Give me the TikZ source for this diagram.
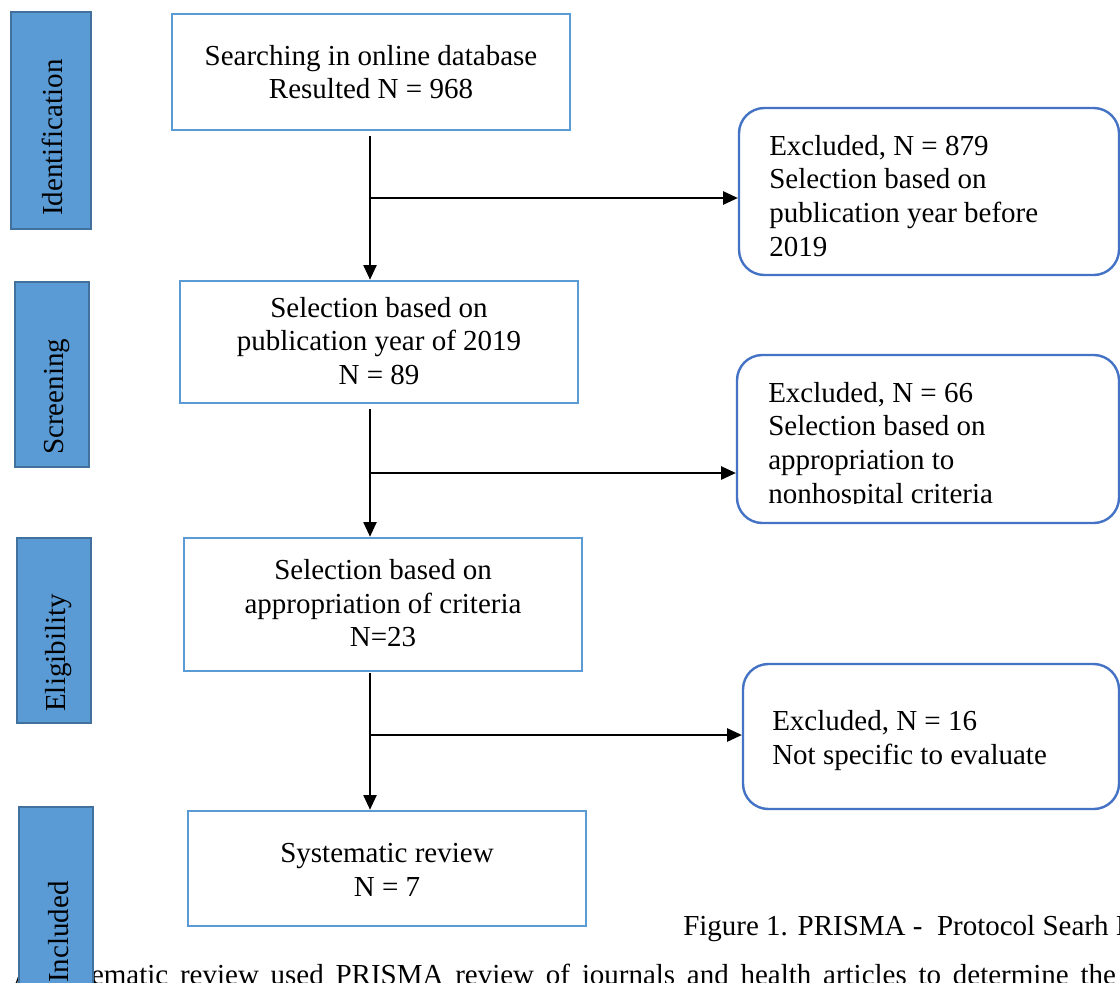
\documentclass[tikz,border=0pt]{standalone}
\usepackage{fontspec}
\setmainfont{Liberation Serif}
\usetikzlibrary{arrows.meta,fit}
\definecolor{phasefill}{HTML}{5B9BD5}
\definecolor{phaseline}{HTML}{41719C}
\definecolor{boxline}{HTML}{5B9BD5}
\definecolor{exline}{HTML}{4472C4}
\begin{document}
\begin{tikzpicture}[x=0.75pt,y=-0.75pt,
  txt/.style={font=\fontsize{21.75pt}{25.2pt}\selectfont, inner sep=0pt},
  phase/.style={draw=phaseline, line width=2pt, fill=phasefill, inner sep=0pt},
  stage/.style={draw=boxline, line width=2pt, fill=white, inner sep=0pt},
  excl/.style={draw=exline, line width=1.8pt, fill=white, rounded corners=19pt, inner sep=0pt},
  arr/.style={line width=1pt, -{Triangle[length=11pt,width=10pt]}},
]
\useasboundingbox (0,0) rectangle (1120,982);
\clip (0,0) rectangle (1120,982);

% running text of the page (partly hidden)
\node[txt, anchor=base west] (para) at (13,984) {\makebox[827pt][s]{A systematic review used PRISMA review of journals and health articles to determine the}};
\node[txt, anchor=base west] (cap) at (683,935) {Figure 1. PRISMA - \ Protocol Searh I};

% phase labels
\node[phase, fit={(11,12) (91,229)}] (pid) {};
\node[txt, rotate=90, anchor=base west] (pidt) at (62,216) {Identification};
\node[phase, fit={(15,282) (89,467)}] (psc) {};
\node[txt, rotate=90, anchor=base west] (psct) at (63,455) {Screening};
\node[phase, fit={(17,538) (91,723)}] (pel) {};
\node[txt, rotate=90, anchor=base west] (pelt) at (65,712) {Eligibility};
\node[phase, fit={(19,807) (93,1000)}] (pin) {};
\node[txt, rotate=90, anchor=base west] (pint) at (68,983) {Included};

% main stages
\node[stage, fit={(172,14) (570,130)}] (b1) {};
\node[txt, align=center, anchor=north] (t1) at (371,45) {Searching in online database\\Resulted N = 968};
\node[stage, fit={(180,281) (578,403)}] (b2) {};
\node[txt, align=center, anchor=north] (t2) at (379,297) {Selection based on\\publication year of 2019\\N = 89};
\node[stage, fit={(184,538) (582,671)}] (b3) {};
\node[txt, align=center, anchor=north] (t3) at (383,559) {Selection based on\\appropriation of criteria\\N=23};
\node[stage, fit={(188,811) (586,926)}] (b4) {};
\node[txt, align=center, anchor=north] (t4) at (387,843) {Systematic review\\N = 7};

% exclusion boxes
\node[excl, fit={(739,108) (1119,275)}] (r1) {};
\node[txt, align=left, anchor=north west] (r1t) at (769,135) {Excluded, N = 879\\Selection based on\\publication year before\\2019};
\node[excl, fit={(737,355) (1119,523)}] (r2) {};
\begin{scope}
\clip (737,355) rectangle (1119,503);
\node[txt, align=left, anchor=north west] (r2t) at (768,382) {Excluded, N = 66\\Selection based on\\appropriation to\\nonhospital criteria};
\end{scope}
\node[excl, fit={(743,664) (1119,809)}] (r3) {};
\node[txt, align=left, anchor=north west] (r3t) at (772,710) {Excluded, N = 16\\Not specific to evaluate};

% connectors
\coordinate (s) at (370,0);
\coordinate (j1) at (370,198);
\coordinate (j2) at (370,473);
\coordinate (j3) at (370,735);
\draw[arr] (b1.south -| s) ++(0,5) -- (b2.north -| s);
\draw[arr] (b2.south -| s) ++(0,5) -- (b3.north -| s);
\draw[arr] (b3.south -| s) ++(0,1) -- (b4.north -| s);
\draw[arr] (j1) -- (j1 -| r1.west);
\draw[arr] (j2) -- (j2 -| r2.west);
\draw[arr] (j3) -- (j3 -| r3.west);
\end{tikzpicture}
\end{document}
